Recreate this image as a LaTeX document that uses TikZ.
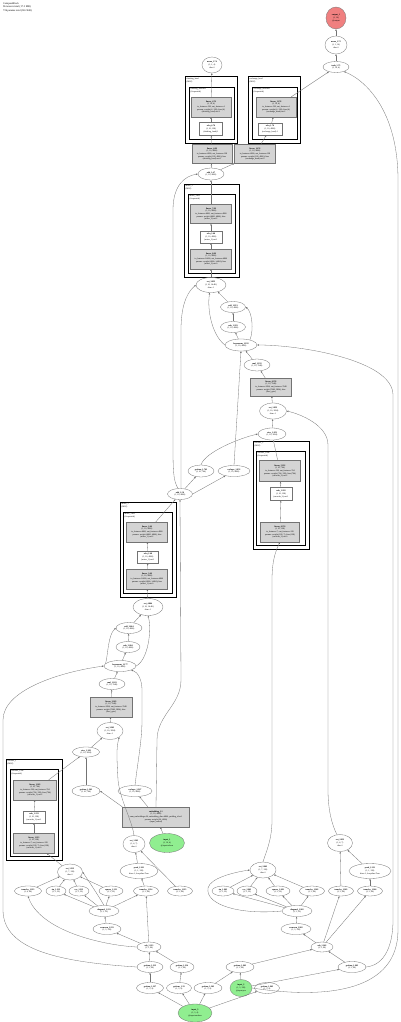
\documentclass[tikz,border=0pt]{standalone}
\usepackage{fontspec}
\setmainfont{Liberation Serif}
\usetikzlibrary{arrows.meta,shapes.geometric}
\definecolor{edgec}{gray}{0.45}
\definecolor{boxg}{gray}{0.83}
\definecolor{ingreen}{RGB}{144,238,144}
\definecolor{outred}{RGB}{240,128,128}
\begin{document}
\begin{tikzpicture}[x=1pt,y=-1pt,
  every node/.style={font=\fontsize{2.1}{2.7}\selectfont, align=center, inner sep=0pt},
  ell/.style={ellipse, draw=edgec, line width=0.3pt, fill=white},
  gbox/.style={rectangle, draw=edgec, line width=0.3pt, fill=boxg},
  wbox/.style={rectangle, draw=edgec, line width=0.3pt, fill=white},
  grn/.style={ellipse, draw=edgec, line width=0.3pt, fill=ingreen},
  red/.style={ellipse, draw=edgec, line width=0.3pt, fill=outred},
  outerc/.style={draw=black, line width=1.0pt},
  innerc/.style={draw=black, line width=0.6pt},
  clab/.style={anchor=north west, align=left, font=\fontsize{2.1}{2.5}\selectfont},
  edge/.style={draw=edgec, line width=0.3pt, -{Triangle[length=1.8pt,width=1.4pt]}}
]
\useasboundingbox[fill=white] (0,0) rectangle (400,1022);

\node[anchor=north west, align=left, font=\fontsize{2.6}{3.7}\selectfont] (hdr) at (3,2) {CompassBlock\\96 tensors total (17.3 MB)\\736 params total (38.2 KB)};

% ---------- clusters ----------
\draw[outerc] (185,77) rectangle (237,143);
\node[clab] (c1l) at (186.5,78) {thinking\_head\\(MLP)};
\draw[innerc] (189,87) rectangle (234,139);
\node[clab] (c1il) at (190.5,88) {thinking\_head.net\\(Sequential)};
\draw[outerc] (248,77) rectangle (300,143);
\node[clab] (c2l) at (249.5,78) {exchange\_head\\(MLP)};
\draw[innerc] (252,87) rectangle (297,139);
\node[clab] (c2il) at (253.5,88) {exchange\_head.net\\(Sequential)};
\draw[outerc] (184,184) rectangle (239,277);
\node[clab] (c3l) at (185.5,185) {mixer\_3\\(MLP)};
\draw[innerc] (188,194) rectangle (235,273);
\node[clab] (c3il) at (189.5,195) {mixer\_3.net\\(Sequential)};
\draw[outerc] (253,441) rectangle (309,549);
\node[clab] (c4l) at (254.5,442) {encoder\_2\\(MLP)};
\draw[innerc] (256,451) rectangle (305,545);
\node[clab] (c4il) at (257.5,452) {encoder\_2.net\\(Sequential)};
\draw[outerc] (120,502) rectangle (176,597);
\node[clab] (c5l) at (121.5,503) {mixer\_1\\(MLP)};
\draw[innerc] (123,512) rectangle (172,593);
\node[clab] (c5il) at (124.5,513) {mixer\_1.net\\(Sequential)};
\draw[outerc] (6,759) rectangle (62,860);
\node[clab] (c6l) at (7.5,760) {encoder\_1\\(MLP)};
\draw[innerc] (10,769) rectangle (58,856);
\node[clab] (c6il) at (11.5,770) {encoder\_1.net\\(Sequential)};

% ---------- top ----------
\node[red, minimum width=20pt, minimum height=22pt] (out1) at (336,18) {\textbf{output\_1}\\(1, 10)\\@output};
\node[ell, minimum width=22pt, minimum height=18pt] (mean175) at (336,45) {\textbf{mean\_1.75}\\(1, 1, 10)\\dim=1};
\node[ell, minimum width=26pt, minimum height=11pt] (tanh175) at (336,67) {\textbf{tanh\_1.75}\\(1, 10, 4)};
\node[ell, minimum width=20pt, minimum height=16pt] (meanL) at (212,65) {\textbf{mean\_1.74}\\(1, 1, 4)\\dim=1};

\node[gbox, minimum width=40pt, minimum height=20pt] (lin476) at (211,107) {\textbf{linear\_4.76}\\(1, 10, 4)\\in\_features=128, out\_features=4\\params: weight (4, 128); bias (4)\\(thinking\_head).net.2};
\node[wbox, minimum width=23pt, minimum height=13pt] (relu476) at (211,129) {\textbf{relu\_4.76}\\(1, 10, 128)\\(thinking\_head).1};
\node[gbox, minimum width=40pt, minimum height=20pt] (lin1176) at (276,107) {\textbf{linear\_11.76}\\(1, 10, 4)\\in\_features=128, out\_features=4\\params: weight (4, 128); bias (4)\\(exchange\_head).net.2};
\node[wbox, minimum width=24pt, minimum height=12pt] (relu176) at (270,129) {\textbf{relu\_1.76}\\(1, 10, 4800)\\(exchange\_head).1};
\node[gbox, minimum width=40pt, minimum height=19pt] (lin468) at (212,154) {\textbf{linear\_4.68}\\(1, 10, 4800)\\in\_features=4800, out\_features=128\\params: weight (128, 4800); bias\\(thinking\_head).net.0};
\node[gbox, minimum width=41pt, minimum height=19pt] (lin1076) at (255,154) {\textbf{linear\_10.76}\\(1, 10, 4800)\\in\_features=4800, out\_features=128\\params: weight (128, 4800); bias\\(exchange\_head).net.0};
\node[ell, minimum width=26pt, minimum height=12pt] (add147) at (211,174) {\textbf{add\_1.47}\\(1, 10, 4800)};

\node[gbox, minimum width=41pt, minimum height=19pt] (lin768) at (211,214) {\textbf{linear\_7.68}\\(1, 10, 4800)\\in\_features=4800, out\_features=4800\\params: weight (4800, 4800); bias\\(mixer\_3).net.2};
\node[wbox, minimum width=22pt, minimum height=12pt] (relu368) at (211,237) {\textbf{relu\_3.68}\\(1, 10, 4800)\\(mixer\_3).net.1};
\node[gbox, minimum width=41pt, minimum height=20pt] (lin868) at (211,259) {\textbf{linear\_8.68}\\(1, 10, 4800)\\in\_features=14400, out\_features=4800\\params: weight (4800, 14400); bias\\(mixer\_3).net.0};
\node[ell, minimum width=30pt, minimum height=15pt] (cat1) at (211,285) {\textbf{cat\_3.953}\\(1, 10, 14.4K)\\dim=-1};
\node[ell, minimum width=25pt, minimum height=11pt] (add1953) at (233,307) {\textbf{add\_1.953}\\(1, 10, 4800)};
\node[ell, minimum width=25pt, minimum height=11pt] (relu1953) at (233,327) {\textbf{relu\_1.953}\\(1, 10, 4800)};
\node[ell, minimum width=32pt, minimum height=12pt] (ln1952) at (241,345) {\textbf{layernorm\_1.952}\\(1, 10, 4800)};
\node[ell, minimum width=26pt, minimum height=12pt] (mul1952) at (257,365) {\textbf{mul\_1.952}\\(1, 10, 7648)};
\node[gbox, minimum width=41pt, minimum height=18pt] (lin6376) at (271,387) {\textbf{linear\_6.376}\\(1, 10, 7648)\\in\_features=3824, out\_features=7648\\params: weight (7648, 3824); bias\\(fuse\_gate)};
\node[ell, minimum width=27pt, minimum height=16pt] (cat1952) at (273,411) {\textbf{cat\_1.952}\\(1, 10, 3824)\\dim=-1};
\node[ell, minimum width=28pt, minimum height=12pt] (view1952) at (272,434) {\textbf{view\_1.952}\\(1, 10, 3824)};
\node[gbox, minimum width=41pt, minimum height=21pt] (lin5952) at (280,471) {\textbf{linear\_5.952}\\(1, 10, 764)\\in\_features=128, out\_features=764\\params: weight (764, 128); bias (764)\\(encoder\_2).net.2};
\node[wbox, minimum width=22pt, minimum height=13pt] (relu1952) at (281,494) {\textbf{relu\_1.952}\\(1, 10, 128)\\(encoder\_2).net.1};
\node[gbox, minimum width=39pt, minimum height=20pt] (lin6374) at (280,532) {\textbf{linear\_6.374}\\(1, 10, 128)\\in\_features=7, out\_features=128\\params: weight (128, 7); bias (128)\\(encoder\_2).net.0};
\node[ell, minimum width=26pt, minimum height=12pt] (gi1762) at (201,471) {\textbf{getitem\_1.762}\\(1, 10, 764)};
\node[ell, minimum width=32pt, minimum height=11pt] (resh1952) at (234,471) {\textbf{reshape\_1.952}\\(1, 10, 4800)};
\node[ell, minimum width=25pt, minimum height=11pt] (add156) at (180,494) {\textbf{add\_1.56}\\(1, 10, 4800)};

\node[gbox, minimum width=41pt, minimum height=20pt] (lin248) at (147,532) {\textbf{linear\_2.48}\\(1, 10, 4800)\\in\_features=4800, out\_features=4800\\params: weight (4800, 4800); bias\\(mixer\_1).net.2};
\node[wbox, minimum width=21pt, minimum height=12pt] (relu248) at (148,557) {\textbf{relu\_2.48}\\(1, 10, 4800)\\(mixer\_1).net.1};
\node[gbox, minimum width=41pt, minimum height=20pt] (lin348) at (147,579) {\textbf{linear\_3.48}\\(1, 10, 4800)\\in\_features=14400, out\_features=4800\\params: weight (4800, 14400); bias\\(mixer\_1).net.0};
\node[ell, minimum width=30pt, minimum height=17pt] (cat4864) at (148,607) {\textbf{cat\_4.864}\\(1, 10, 14.4K)\\dim=-1};
\node[ell, minimum width=26pt, minimum height=11pt] (mul2) at (129,628) {\textbf{add\_2.864}\\(1, 10, 4800)};
\node[ell, minimum width=24pt, minimum height=11pt] (relu2) at (128,647) {\textbf{relu\_2.864}\\(1, 10, 4800)};
\node[ell, minimum width=32pt, minimum height=11pt] (ln2) at (120,666) {\textbf{layernorm\_1.177}\\(1, 10, 4800)};
\node[ell, minimum width=26pt, minimum height=11pt] (mulL) at (112,684) {\textbf{mul\_1.263}\\(1, 10, 7648)};
\node[gbox, minimum width=42pt, minimum height=20pt] (linL) at (111,707) {\textbf{linear\_3.263}\\(1, 10, 7648)\\in\_features=3824, out\_features=7648\\params: weight (7648, 3824); bias\\(fuse\_gate)};
\node[ell, minimum width=26pt, minimum height=17pt] (cat3) at (110,731) {\textbf{cat\_3.263}\\(1, 10, 3824)\\dim=-1};
\node[ell, minimum width=27pt, minimum height=10pt] (meanL2) at (86,752) {\textbf{view\_1.263}\\(1, 10, 3824)};
\node[ell, minimum width=28pt, minimum height=11pt] (giL) at (86,791) {\textbf{getitem\_1.263}\\(1, 10, 764)};
\node[ell, minimum width=34pt, minimum height=11pt] (unrav) at (135,791) {\textbf{reshape\_1.367}\\(1, 10, 4800)};
\node[gbox, minimum width=67pt, minimum height=20pt] (emb) at (156,817) {\textbf{embedding\_1.1}\\(1, 10, 4800)\\num\_embeddings=20, embedding\_dim=4800, padding\_idx=0\\params: weight (20, 4800)\\(input\_embed)};
\node[grn, minimum width=35pt, minimum height=19pt] (in1) at (167,843) {\textbf{input\_1}\\(1, 10, 4)\\@input.tokens};
\node[ell, minimum width=22pt, minimum height=17pt] (catM) at (134,844) {\textbf{cat\_1.263}\\(1, 4, 7)\\dim=1};

\node[gbox, minimum width=43pt, minimum height=20pt] (linA) at (35,790) {\textbf{linear\_1.263}\\(1, 10, 764)\\in\_features=128, out\_features=764\\params: weight (764, 128); bias (764)\\(encoder\_1).net.2};
\node[wbox, minimum width=22pt, minimum height=12pt] (reluA) at (34,817) {\textbf{relu\_1.213}\\(1, 10, 128)\\(encoder\_1).net.1};
\node[gbox, minimum width=41pt, minimum height=20pt] (linB) at (34,843) {\textbf{linear\_1.213}\\(1, 10, 128)\\in\_features=7, out\_features=128\\params: weight (128, 7); bias (128)\\(encoder\_1).net.0};
\node[ell, minimum width=25pt, minimum height=17pt] (cat2) at (340,843) {\textbf{cat\_2.952}\\(1, 4, 7)\\dim=1};

\node[ell, minimum width=25pt, minimum height=16pt] (catL) at (70,872) {\textbf{cat\_1.213}\\(1, 7, 128)\\dim=1};
\node[ell, minimum width=38pt, minimum height=15pt] (prodL) at (139,871) {\textbf{prod\_1.261}\\(1, 1, 128)\\dim=-1, keepdim=True};
\node[ell, minimum width=26pt, minimum height=16pt] (catR) at (263,870) {\textbf{cat\_2.962}\\(1, 7, 128)\\dim=1};
\node[ell, minimum width=42pt, minimum height=15pt] (gradR) at (370,871) {\textbf{prod\_1.212}\\(1, 1, 128)\\dim=-1, keepdim=True};

\node[ell, minimum width=27pt, minimum height=10pt] (tr28) at (28,891) {\textbf{transfer\_1.213}\\(1, 4, 96)};
\node[ell, minimum width=20pt, minimum height=10pt] (sin56) at (56,891) {\textbf{sin\_1.213}\\(1, 3, 32)};
\node[ell, minimum width=20pt, minimum height=10pt] (cos78) at (79,891) {\textbf{cos\_1.213}\\(1, 3, 32)};
\node[ell, minimum width=24pt, minimum height=10pt] (sq111) at (111,891) {\textbf{square\_1.213}\\(1, 3, 32)};
\node[ell, minimum width=25pt, minimum height=10pt] (tr146) at (146,891) {\textbf{transfer\_1.214}\\(1, 3, 96)};
\node[ell, minimum width=25pt, minimum height=10pt] (tr180) at (180,891) {\textbf{transfer\_1.215}\\(1, 3, 96)};
\node[ell, minimum width=22pt, minimum height=10pt] (sin223) at (223,891) {\textbf{sin\_1.962}\\(1, 3, 32)};
\node[ell, minimum width=20pt, minimum height=10pt] (cos247) at (247,891) {\textbf{cos\_1.962}\\(1, 3, 32)};
\node[ell, minimum width=24pt, minimum height=10pt] (sq278) at (278,891) {\textbf{square\_1.962}\\(1, 3, 32)};
\node[ell, minimum width=25pt, minimum height=10pt] (tr312) at (312,891) {\textbf{transfer\_1.962}\\(1, 3, 96)};
\node[ell, minimum width=25pt, minimum height=10pt] (tr341) at (341,891) {\textbf{transfer\_1.963}\\(1, 3, 96)};
\node[ell, minimum width=25pt, minimum height=10pt] (tr370) at (370,891) {\textbf{transfer\_1.964}\\(1, 3, 96)};

\node[ell, minimum width=30pt, minimum height=11pt] (sqzL) at (104,911) {\textbf{diagonal\_1.213}\\(1, 3, 32)};
\node[ell, minimum width=28pt, minimum height=11pt] (vecL) at (107,929) {\textbf{vecnorm\_1.213}\\(1, 3, 128)};
\node[ell, minimum width=24pt, minimum height=10pt] (subL) at (149,947) {\textbf{sub\_1.213}\\(1, 3, 96)};
\node[ell, minimum width=30pt, minimum height=11pt] (sqzR) at (297,911) {\textbf{diagonal\_1.962}\\(1, 3, 32)};
\node[ell, minimum width=30pt, minimum height=11pt] (vecR) at (296,929) {\textbf{vecnorm\_1.962}\\(1, 3, 128)};
\node[ell, minimum width=22pt, minimum height=10pt] (subR) at (322,947) {\textbf{sub\_1.962}\\(1, 3, 96)};

\node[ell, minimum width=26pt, minimum height=11pt] (gL1) at (150,967) {\textbf{getitem\_1.213}\\(1, 3, 96)};
\node[ell, minimum width=24pt, minimum height=11pt] (gL2) at (182,967) {\textbf{getitem\_1.214}\\(1, 3, 96)};
\node[ell, minimum width=28pt, minimum height=11pt] (gR1) at (240,967) {\textbf{getitem\_1.962}\\(1, 3, 96)};
\node[ell, minimum width=28pt, minimum height=11pt] (gR2) at (352,967) {\textbf{getitem\_1.963}\\(1, 3, 96)};
\node[ell, minimum width=27pt, minimum height=11pt] (gL3) at (150,988) {\textbf{getitem\_1.227}\\(1, 3, 4)};
\node[ell, minimum width=25pt, minimum height=11pt] (gL4) at (179,988) {\textbf{getitem\_1.33}\\(1, 3, 4)};
\node[ell, minimum width=28pt, minimum height=11pt] (gR0) at (208,988) {\textbf{getitem\_1.262}\\(1, 3, 4)};
\node[grn, minimum width=22pt, minimum height=17pt] (in2) at (241,988) {\textbf{input\_2}\\(1, 3, 128)\\@input.pos};
\node[ell, minimum width=25pt, minimum height=11pt] (gR3) at (267,988) {\textbf{getitem\_1.963}\\(1, 3, 4)};
\node[grn, minimum width=34pt, minimum height=18pt] (in3) at (195,1013) {\textbf{input\_3}\\(1, 3, 4)\\@input.anchors};

% ---------- edges ----------
\draw[edge] (mean175) -- (out1);
\draw[edge] (tanh175) -- (mean175);
\draw[edge] (lin1176) -- (tanh175);
\draw[edge] (relu176) -- (lin1176);
\draw[edge] (lin1076) -- (relu176);
\draw[edge] (add147) -- (lin1076);
\draw[edge] (add147) -- (lin468);
\draw[edge] (lin468) -- (relu476);
\draw[edge] (relu476) -- (lin476);
\draw[edge] (lin476) -- (meanL);
\draw[edge] (lin768) -- (add147);
\draw[edge] (relu368) -- (lin768);
\draw[edge] (lin868) -- (relu368);
\draw[edge] (cat1) -- (lin868);
\draw[edge] (add156.110) .. controls (173,480) and (173,470) .. (173,440) -- (173,210) .. controls (173,185) and (185,176) .. (add147.west);
\draw[edge] (add156.80) -- (181,330) .. controls (181,300) and (190,290) .. (cat1.west);
\draw[edge] (add1953) -- (cat1);
\draw[edge] (relu1953) -- (add1953);
\draw[edge] (ln1952) -- (relu1953);
\draw[edge] (ln1952.30) .. controls (254,330) and (252,312) .. (add1953.east);
\draw[edge] (ln1952.west) .. controls (212,335) and (207,310) .. (cat1.260);
\draw[edge] (mul1952) -- (ln1952);
\draw[edge] (lin6376) -- (mul1952);
\draw[edge] (cat1952) -- (lin6376);
\draw[edge] (view1952) -- (cat1952);
\draw[edge] (lin5952) -- (view1952);
\draw[edge] (relu1952) -- (lin5952);
\draw[edge] (lin6374) -- (relu1952);
\draw[edge] (catR.north) .. controls (266,852) and (272,840) .. (272,820) -- (272,580) .. controls (272,560) and (276,550) .. (lin6374.south);
\draw[edge] (cat2.110) .. controls (332,825) and (328,810) .. (328,790) -- (328,445) .. controls (328,425) and (300,414) .. (cat1952.east);
\draw[edge] (gi1762.north) .. controls (205,452) and (240,438) .. (view1952.west);
\draw[edge] (resh1952.north) -- (ln1952.south);
\draw[edge] (add156) -- (gi1762);
\draw[edge] (add156.east) -- (resh1952);
\draw[edge] (gR2.east) .. controls (385,965) and (393,945) .. (393,920) -- (393,395) .. controls (393,360) and (300,345) .. (ln1952.east);
\draw[edge] (in2.east) .. controls (330,1000) and (398,990) .. (398,930) -- (398,180) .. controls (398,110) and (365,80) .. (tanh175.-30);
\draw[edge] (lin248) -- (add156);
\draw[edge] (relu248) -- (lin248);
\draw[edge] (lin348) -- (relu248);
\draw[edge] (cat4864) -- (lin348);
\draw[edge] (emb.north) -- (157,740) .. controls (157,715) and (181,705) .. (181,680) -- (add156.south);
\draw[edge] (mul2) -- (cat4864);
\draw[edge] (relu2) -- (mul2);
\draw[edge] (ln2) -- (relu2);
\draw[edge] (ln2.170) .. controls (108,655) and (108,635) .. (mul2.west);
\draw[edge] (ln2.east) .. controls (148,660) and (152,630) .. (cat4864.south);
\draw[edge] (mulL) -- (ln2);
\draw[edge] (linL) -- (mulL);
\draw[edge] (cat3) -- (linL);
\draw[edge] (meanL2) -- (cat3);
\draw[edge] (linA) -- (meanL2);
\draw[edge] (giL) -- (meanL2);
\draw[edge] (reluA) -- (linA);
\draw[edge] (linB) -- (reluA);
\draw[edge] (catL) -- (linB);
\draw[edge] (unrav.north) .. controls (138,760) and (142,740) .. (142,720) -- (142,690) .. controls (142,680) and (138,672) .. (ln2.-20);
\draw[edge] (emb) -- (unrav);
\draw[edge] (emb.north west) -- (giL.east);
\draw[edge] (in1) -- (emb);
\draw[edge] (catM.north) .. controls (132,820) and (120,800) .. (118,780) .. controls (117,760) and (116,748) .. (cat3.south east);
\draw[edge] (prodL) -- (catM);
\draw[edge] (gradR) -- (cat2);
\draw[edge] (tr341) -- (cat2);
\draw[edge] (sin223) -- (catR);
\draw[edge] (cos247) -- (catR);
\draw[edge] (sq278) -- (catR);
\draw[edge] (tr312) -- (catR);
\draw[edge] (sqzR.west) .. controls (240,915) and (205,905) .. (208,888) .. controls (210,878) and (235,872) .. (catR.west);
\draw[edge] (sqzR) -- (sin223);
\draw[edge] (sqzR) -- (cos247);
\draw[edge] (sqzR) -- (sq278);
\draw[edge] (sqzR) -- (tr312);
\draw[edge] (vecR) -- (sqzR);
\draw[edge] (subR) -- (vecR);
\draw[edge] (subR) -- (tr341);
\draw[edge] (subR) -- (tr370);
\draw[edge] (tr370) -- (gradR);
\draw[edge] (gR1) -- (subR);
\draw[edge] (gR2) -- (subR);
\draw[edge] (in2) -- (gR1);
\draw[edge] (in2) -- (gR2);
\draw[edge] (sin56) -- (catL);
\draw[edge] (cos78) -- (catL);
\draw[edge] (sq111) -- (catL);
\draw[edge] (tr28) -- (catL);
\draw[edge] (sqzL.north) .. controls (98,895) and (88,880) .. (catL.east);
\draw[edge] (sqzL) -- (sin56);
\draw[edge] (sqzL) -- (cos78);
\draw[edge] (sqzL) -- (sq111);
\draw[edge] (sqzL) -- (tr146);
\draw[edge] (vecL) -- (sqzL);
\draw[edge] (subL) -- (vecL);
\draw[edge] (subL) -- (tr146);
\draw[edge] (subL.west) .. controls (100,945) and (40,930) .. (tr28.south);
\draw[edge] (tr146) -- (prodL);
\draw[edge] (tr180) -- (catM);
\draw[edge] (gL1) -- (subL);
\draw[edge] (gL2) -- (subL);
\draw[edge] (gL3) -- (gL1);
\draw[edge] (gL4) -- (gL2);
\draw[edge] (in3) -- (gL3);
\draw[edge] (in3) -- (gL4);
\draw[edge] (in3) -- (gR0);
\draw[edge] (in3) -- (gR3);
\draw[edge] (gR0) -- (gR1);
\draw[edge] (gL1.west) .. controls (60,962) and (3,950) .. (3,910) -- (3,720) .. controls (3,690) and (60,672) .. (ln2.west);
\end{tikzpicture}
\end{document}
